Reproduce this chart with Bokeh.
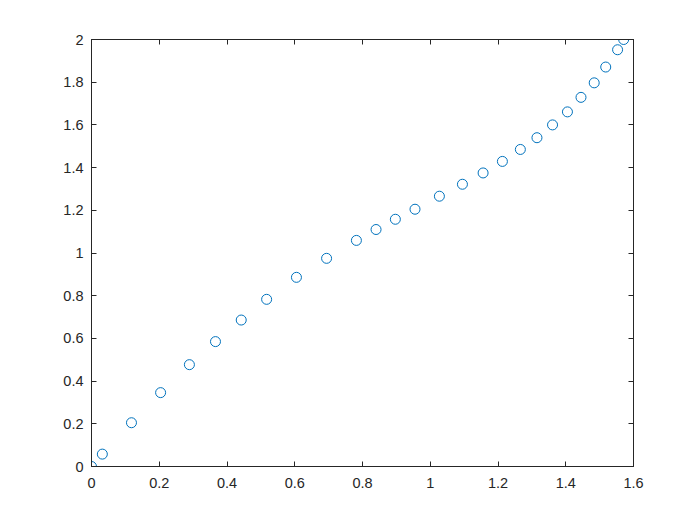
from bokeh.plotting import figure
from bokeh.models import LinearAxis, FixedTicker, Range1d
from bokeh.embed import file_html
from bokeh.resources import INLINE

x_vals = [0.0, 0.032, 0.118, 0.204, 0.289, 0.366, 0.442, 0.517, 0.605, 0.694,
          0.782, 0.840, 0.897, 0.955, 1.027, 1.095, 1.156, 1.213, 1.266, 1.315,
          1.361, 1.405, 1.445, 1.484, 1.518, 1.553, 1.571]
y_vals = [0.0, 0.058, 0.205, 0.346, 0.477, 0.585, 0.686, 0.783, 0.886, 0.975,
          1.059, 1.110, 1.158, 1.205, 1.266, 1.322, 1.375, 1.429, 1.485, 1.540,
          1.600, 1.661, 1.729, 1.797, 1.871, 1.952, 2.0]

x_ticks = [0, 0.2, 0.4, 0.6, 0.8, 1.0, 1.2, 1.4, 1.6]
x_labels = ["0", "0.2", "0.4", "0.6", "0.8", "1", "1.2", "1.4", "1.6"]
y_ticks = [0, 0.2, 0.4, 0.6, 0.8, 1.0, 1.2, 1.4, 1.6, 1.8, 2.0]
y_labels = ["0", "0.2", "0.4", "0.6", "0.8", "1", "1.2", "1.4", "1.6", "1.8", "2"]

AX = "#262626"
FONT = "Liberation Sans"

p = figure(width=684, height=509, output_backend="svg", toolbar_location=None,
           x_range=Range1d(0, 1.6), y_range=Range1d(0, 2),
           min_border_left=91, min_border_right=51, min_border_top=39, min_border_bottom=43,
           x_axis_location=None, y_axis_location=None)
p.grid.visible = False
p.outline_line_color = AX
p.outline_line_width = 1
p.background_fill_color = "white"
p.border_fill_color = "white"

def mk_axis(ticks, labels, show_labels):
    ax = LinearAxis(ticker=FixedTicker(ticks=ticks))
    ax.major_label_overrides = {t: l for t, l in zip(ticks, labels)}
    ax.major_tick_in = 5
    ax.major_tick_out = 0
    ax.minor_tick_in = 0
    ax.minor_tick_out = 0
    ax.axis_line_color = AX
    ax.major_tick_line_color = AX
    ax.major_label_text_color = AX
    ax.major_label_text_font = FONT
    ax.major_label_text_font_size = "14.5px"
    if not show_labels:
        ax.major_label_text_alpha = 0
    return ax

bx = mk_axis(x_ticks, x_labels, True)
bx.major_label_standoff = 11
p.add_layout(bx, "below")
ly = mk_axis(y_ticks, y_labels, True)
ly.major_label_standoff = 8
p.add_layout(ly, "left")
tx = mk_axis(x_ticks, x_labels, False)
p.add_layout(tx, "above")
ry = mk_axis(y_ticks, y_labels, False)
p.add_layout(ry, "right")

p.scatter(x_vals, y_vals, marker="circle", size=10, fill_color=None,
          line_color="#0072BD", line_width=1)

open("out.html", "w").write(file_html(p, INLINE))
